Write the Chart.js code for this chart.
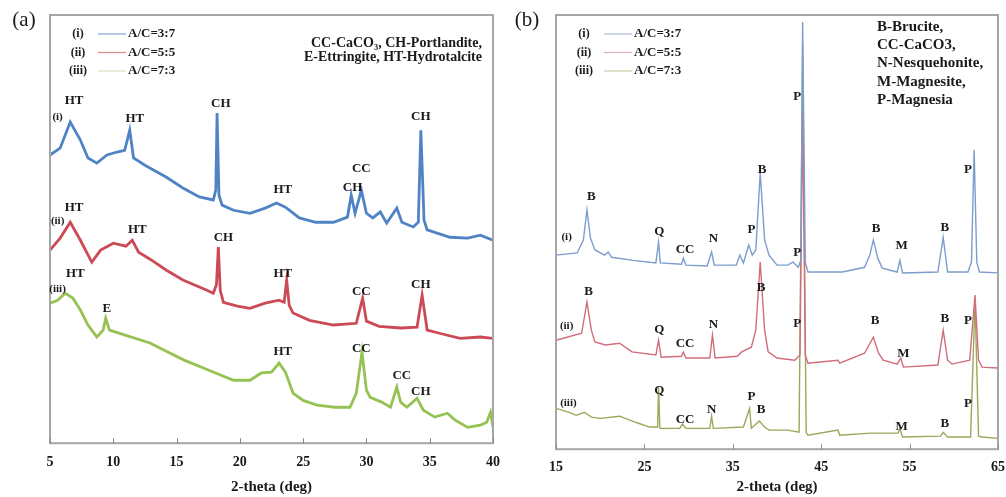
<!DOCTYPE html>
<html>
<head>
<meta charset="utf-8">
<script src="https://cdn.jsdelivr.net/npm/chart.js@4.4.1/dist/chart.umd.min.js"></script>
<style>
	body { margin: 0; background: #fff; width: 1006px; height: 497px; overflow: hidden; position: relative; }
	canvas { position: absolute; top: 0; }
	#ca { left: 0; }
	#cb { left: 500px; }
</style>
</head>
<body>
<canvas id="ca" width="502" height="497"></canvas>
<canvas id="cb" width="506" height="497"></canvas>
<script>
// ---- panel (a) : 2-theta 5..40, intensity in a.u. (0..100 of the frame height)
var seriesNames = ["A/C=3:7", "A/C=5:5", "A/C=7:3"];
var seriesTags = ["(i)", "(ii)", "(iii)"];

var a1Theta = [5, 5.8, 6.6, 7.4, 8.0, 8.7, 9.5, 10.3, 10.9, 11.3, 11.6, 12.5, 14.2, 15.5, 16.8, 17.9, 18.1, 18.2, 18.35, 18.6, 19.5, 20.8, 22.0, 22.9, 23.6, 24.7, 26.0, 27.4, 28.5, 28.8, 29.1, 29.6, 30.0, 30.5, 31.1, 31.6, 32.4, 32.8, 33.7, 34.1, 34.3, 34.55, 34.8, 36.6, 38.0, 39.0, 40];
var a1Int = [67.3, 68.9, 75.0, 70.8, 66.6, 65.4, 67.3, 68.0, 68.4, 73.1, 66.6, 64.9, 62.1, 59.6, 57.5, 56.8, 59.1, 77.1, 57.9, 55.6, 54.4, 53.7, 54.9, 56.1, 55.1, 52.6, 51.6, 51.6, 52.8, 57.9, 53.7, 59.1, 53.7, 52.6, 54.0, 51.4, 54.9, 51.6, 50.5, 51.6, 73.1, 52.1, 49.8, 48.1, 47.9, 48.6, 47.4];

var a2Theta = [5, 5.8, 6.6, 7.4, 8.3, 9.0, 10.0, 11.0, 11.5, 12.0, 13.0, 14.2, 15.5, 17.4, 17.9, 18.15, 18.3, 18.45, 18.7, 19.8, 20.8, 22.0, 23.1, 23.5, 23.7, 23.9, 24.2, 25.5, 27.4, 29.2, 29.7, 30.0, 31.0, 32.7, 34.0, 34.4, 34.8, 36.0, 37.4, 39.0, 40];
var a2Int = [45.1, 47.9, 51.6, 47.4, 42.3, 45.1, 46.7, 46.0, 47.4, 44.6, 42.8, 40.4, 38.1, 35.7, 35.0, 37.0, 45.8, 35.7, 32.9, 32.0, 31.5, 32.7, 33.4, 32.9, 38.1, 32.2, 30.4, 28.7, 27.6, 28.0, 33.9, 28.5, 27.3, 26.9, 27.1, 34.6, 26.4, 25.5, 24.5, 24.8, 24.5];

var a3Theta = [5, 5.6, 6.2, 6.8, 7.4, 8.0, 8.7, 9.2, 9.4, 9.7, 11.0, 12.9, 14.3, 15.6, 17.5, 19.5, 20.8, 21.7, 22.5, 23.1, 23.6, 24.2, 25.0, 26.1, 27.5, 28.7, 29.2, 29.65, 30.0, 30.3, 31.2, 31.9, 32.4, 32.7, 33.2, 34.0, 34.5, 35.4, 36.4, 37.0, 38.0, 39.0, 39.5, 39.8, 40];
var a3Int = [32.7, 33.4, 35.0, 33.9, 31.1, 27.6, 24.8, 26.4, 29.2, 26.4, 25.2, 23.4, 21.3, 19.4, 17.1, 14.7, 14.7, 16.4, 16.6, 18.7, 16.6, 11.7, 10.0, 8.9, 8.4, 8.4, 11.7, 21.3, 12.4, 10.7, 9.6, 8.4, 13.1, 9.6, 8.4, 10.5, 7.7, 6.1, 7.0, 5.4, 3.7, 4.2, 4.9, 7.2, 3.7];

// peak marks of panel (a): [2-theta, intensity, text]
var peaksA = [
	[6.9, 80.1, "HT"], [11.7, 75.9, "HT"], [18.5, 79.4, "CH"], [23.4, 59.3, "HT"], [29.6, 64.2, "CC"], [28.9, 59.6, "CH"], [34.3, 76.2, "CH"],
	[6.9, 54.9, "HT"], [11.9, 49.8, "HT"], [18.7, 48.1, "CH"], [23.4, 39.7, "HT"], [29.6, 35.5, "CC"], [34.3, 37.1, "CH"],
	[7.0, 39.7, "HT"], [9.5, 31.5, "E"], [23.4, 21.3, "HT"], [29.6, 22.0, "CC"], [32.8, 15.7, "CC"], [34.3, 12.1, "CH"]
];
var tagsA = [[5.6, 76.2, "(i)"], [5.6, 51.9, "(ii)"], [5.6, 36.0, "(iii)"]];
var phasesA = ["CC-CaCO\u2083, CH-Portlandite,", "E-Ettringite, HT-Hydrotalcite"];

// ---- panel (b) : 2-theta 15..65
var b1Theta = [15, 17.4, 18.1, 18.5, 18.9, 19.4, 20.5, 20.9, 21.3, 23.7, 26.3, 26.6, 26.8, 29.2, 29.4, 29.7, 32.1, 32.6, 32.9, 35.4, 35.8, 36.2, 36.8, 37.2, 37.6, 38.1, 38.6, 39.1, 40.0, 41.2, 41.8, 42.4, 42.7, 42.9, 43.2, 43.5, 47.4, 49.9, 50.5, 50.9, 51.4, 51.9, 53.6, 53.9, 54.2, 58.2, 58.8, 59.3, 61.6, 62.0, 62.3, 62.6, 62.9, 65];
var b1Int = [44.7, 45.2, 48.2, 55.1, 48.6, 45.9, 44.7, 45.4, 44.2, 43.5, 42.9, 47.7, 42.9, 42.6, 44.0, 42.4, 42.2, 45.4, 42.4, 42.4, 44.7, 42.9, 47.0, 44.7, 45.9, 63.6, 48.2, 44.7, 42.4, 42.4, 43.1, 41.9, 43.5, 98.4, 43.1, 40.8, 40.8, 41.9, 44.7, 48.2, 44.0, 41.7, 40.8, 43.5, 40.6, 40.8, 48.8, 40.8, 40.8, 43.1, 68.9, 43.1, 40.8, 40.6];

var b2Theta = [15, 17.9, 18.5, 19.0, 19.4, 20.6, 22.2, 23.6, 26.3, 26.6, 26.9, 29.2, 29.4, 29.7, 32.4, 32.7, 33.0, 35.5, 36.0, 37.1, 37.6, 38.1, 38.6, 39.0, 40.0, 42.0, 42.6, 42.9, 43.2, 43.5, 46.9, 47.1, 49.9, 50.9, 51.5, 52.0, 53.6, 54.0, 54.3, 58.2, 58.8, 59.3, 59.8, 61.8, 62.4, 62.8, 63.2, 65];
var b2Int = [25.1, 26.7, 33.9, 27.4, 24.7, 24.0, 24.4, 22.4, 21.7, 25.1, 21.2, 21.4, 22.4, 21.0, 21.0, 26.3, 21.0, 21.4, 22.4, 23.5, 27.4, 43.1, 27.4, 22.4, 21.0, 20.5, 21.7, 78.1, 21.7, 19.8, 20.5, 19.8, 22.1, 25.8, 22.1, 20.5, 19.6, 21.0, 18.9, 19.4, 27.4, 20.5, 19.6, 20.5, 35.5, 20.5, 18.9, 18.7];

var b3Theta = [15, 16.5, 17.3, 18.2, 19.0, 20.0, 22.2, 24.0, 25.6, 26.5, 26.6, 26.75, 29.0, 29.3, 29.7, 32.4, 32.6, 32.8, 36.2, 36.9, 37.1, 38.0, 38.6, 39.1, 41.2, 42.5, 42.9, 43.3, 43.5, 46.9, 47.1, 50.6, 53.7, 53.9, 54.2, 58.5, 58.8, 59.3, 61.9, 62.4, 62.8, 63.2, 65];
var b3Int = [9.4, 8.5, 7.8, 8.5, 7.4, 7.1, 7.6, 6.2, 5.1, 5.1, 14.3, 4.8, 4.8, 5.8, 4.8, 4.8, 7.6, 4.8, 5.1, 9.4, 4.8, 6.5, 5.1, 4.4, 4.4, 3.9, 93.1, 3.9, 3.2, 4.4, 3.2, 3.7, 3.7, 4.8, 2.8, 3.0, 3.9, 2.8, 2.8, 34.3, 3.0, 2.8, 2.5];

var peaksB = [
	[19.0, 58.1, "B"], [26.7, 50.0, "Q"], [29.6, 45.9, "CC"], [32.8, 48.4, "N"], [37.1, 50.5, "P"], [38.3, 64.3, "B"], [42.3, 81.1, "P"], [42.3, 45.2, "P"], [51.2, 50.9, "B"], [54.1, 46.8, "M"], [59.0, 51.1, "B"], [61.6, 64.5, "P"],
	[18.7, 36.4, "B"], [26.7, 27.6, "Q"], [29.6, 24.4, "CC"], [32.8, 28.6, "N"], [38.2, 37.3, "B"], [42.3, 29.0, "P"], [51.1, 29.5, "B"], [54.3, 22.1, "M"], [59.0, 30.0, "B"], [61.6, 29.5, "P"],
	[26.7, 13.6, "Q"], [29.6, 6.9, "CC"], [32.6, 9.2, "N"], [37.1, 12.0, "P"], [38.2, 9.0, "B"], [54.1, 5.3, "M"], [59.0, 5.8, "B"], [61.6, 10.6, "P"]
];
var tagsB = [[16.2, 48.8, "(i)"], [16.2, 28.3, "(ii)"], [16.4, 10.6, "(iii)"]];
var phasesB = ["B-Brucite,", "CC-CaCO3,", "N-Nesquehonite,", "M-Magnesite,", "P-Magnesia"];

var SERIF = '"Liberation Serif", "Times New Roman", serif';

function pts(xs, ys) {
	return xs.map(function(x, i) { return { x: x, y: ys[i] }; });
}

// frame, inward ticks, peak letters, legend and phase list
var decor = {
	id: "decor",
	afterDraw: function(chart, args, o) {
		var ctx = chart.ctx, a = chart.chartArea, xs = chart.scales.x, ys = chart.scales.y;
		ctx.save();
		ctx.strokeStyle = "#a6a6a6";
		ctx.lineWidth = 2;
		ctx.strokeRect(a.left, a.top, a.right - a.left, a.bottom - a.top);
		ctx.lineWidth = 1;
		ctx.strokeStyle = "#888";
		xs.ticks.forEach(function(t) {
			var px = Math.round(xs.getPixelForValue(t.value)) + 0.5;
			ctx.beginPath(); ctx.moveTo(px, a.bottom); ctx.lineTo(px, a.bottom - 5); ctx.stroke();
		});

		ctx.fillStyle = "#1a1a1a";
		ctx.textAlign = "center";
		ctx.textBaseline = "middle";
		ctx.font = "bold 13px " + SERIF;
		o.peaks.forEach(function(p) {
			ctx.fillText(p[2], xs.getPixelForValue(p[0]), ys.getPixelForValue(p[1]));
		});
		ctx.font = "bold 11px " + SERIF;
		o.tags.forEach(function(p) {
			ctx.fillText(p[2], xs.getPixelForValue(p[0]), ys.getPixelForValue(p[1]));
		});

		// legend
		for (var i = 0; i < seriesNames.length; i++) {
			var yy = a.top + 19 + i * 18.5;
			ctx.fillStyle = "#1a1a1a";
			ctx.textAlign = "center";
			ctx.font = "bold 12px " + SERIF;
			ctx.fillText(seriesTags[i], a.left + o.legX, yy);
			ctx.strokeStyle = o.legColors[i];
			ctx.lineWidth = 1.2;
			ctx.beginPath(); ctx.moveTo(a.left + o.legX + 20, yy); ctx.lineTo(a.left + o.legX + 48, yy); ctx.stroke();
			ctx.textAlign = "left";
			ctx.font = "bold 13px " + SERIF;
			ctx.fillText(seriesNames[i], a.left + o.legX + 50, yy);
		}

		// phase list
		ctx.fillStyle = "#1a1a1a";
		ctx.font = "bold " + o.phaseSize + "px " + SERIF;
		ctx.textAlign = o.phaseAlign;
		o.phases.forEach(function(s, k) {
			ctx.fillText(s, o.phaseX, o.phaseY + k * o.phaseGap);
		});

		// panel letter
		ctx.font = "21px " + SERIF;
		ctx.textAlign = "center";
		ctx.fillText(o.letter, o.letterX, 20);
		ctx.restore();
	}
};

function makePanel(id, xmin, xmax, step, sets, colors, width, pad, tickLen, titlePad, deco) {
	var datasets = sets.map(function(s, i) {
		return {
			label: seriesNames[i],
			data: pts(s[0], s[1]),
			borderColor: colors[i],
			borderWidth: width,
			pointRadius: 0,
			tension: 0,
			fill: false
		};
	});
	return new Chart(document.getElementById(id), {
		type: "line",
		data: { datasets: datasets },
		options: {
			responsive: false,
			animation: false,
			devicePixelRatio: 1,
			layout: { padding: pad },
			plugins: { legend: { display: false }, tooltip: { enabled: false }, decor: deco },
			scales: {
				x: {
					type: "linear", min: xmin, max: xmax,
					// transparent outer tick marks only push the labels down
					grid: { display: true, drawOnChartArea: false, drawTicks: true, tickLength: tickLen, color: "rgba(0,0,0,0)" },
					border: { display: false },
					ticks: { stepSize: step, padding: 0, maxRotation: 0, color: "#1a1a1a", font: { family: SERIF, size: 14, weight: "bold" } },
					title: { display: true, text: "2-theta (deg)", color: "#1a1a1a", padding: { top: titlePad, bottom: 0 }, font: { family: SERIF, size: 15, weight: "bold" } }
				},
				y: { display: false, min: 0, max: 100 }
			}
		},
		plugins: [decor]
	});
}

makePanel("ca", 5, 40, 5,
	[[a1Theta, a1Int], [a2Theta, a2Int], [a3Theta, a3Int]],
	["#4f83c6", "#cc4a55", "#94c353"], 2.8,
	{ left: 50, right: 9, top: 15, bottom: 1 }, 11, 7,
	{ peaks: peaksA, tags: tagsA, phases: phasesA, phaseX: 482, phaseY: 43, phaseGap: 14, phaseSize: 14, phaseAlign: "right",
	  legX: 28, legColors: ["#7ea7d8", "#d98a92", "#d5e2bd"], letter: "(a)", letterX: 24 });

makePanel("cb", 15, 65, 10,
	[[b1Theta, b1Int], [b2Theta, b2Int], [b3Theta, b3Int]],
	["#7d9dcc", "#d06d7b", "#9da75a"], 1.4,
	{ left: 56, right: 8, top: 15, bottom: 1 }, 10, 2,
	{ peaks: peaksB, tags: tagsB, phases: phasesB, phaseX: 377, phaseY: 27, phaseGap: 18.3, phaseSize: 15, phaseAlign: "left",
	  legX: 28, legColors: ["#a9bedb", "#e0b1b4", "#c9cfa8"], letter: "(b)", letterX: 27 });
</script>
</body>
</html>
